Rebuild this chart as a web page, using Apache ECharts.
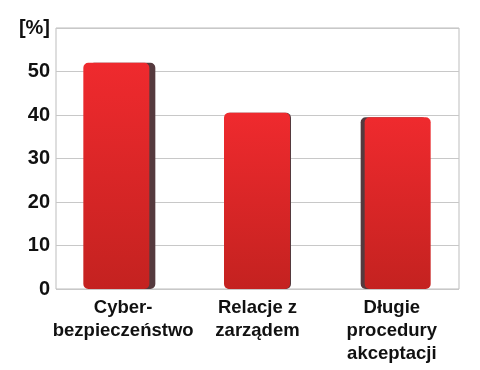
<!DOCTYPE html>
<html><head><meta charset="utf-8">
<script src="https://cdn.jsdelivr.net/npm/echarts@6/dist/echarts.min.js"></script>
<style>html,body{margin:0;padding:0;background:#fff}#c{width:480px;height:370px}</style>
</head><body><div id="c"></div>
<script>
const categories = ['Cyber-\nbezpieczeństwo', 'Relacje z\nzarządem', 'Długie\nprocedury\nakceptacji'];
const values = [52, 40.5, 39.5];
const sideOffsets = [6, 1, -4];

const chart = echarts.init(document.getElementById('c'));
chart.setOption({
  animation: false,
  grid: [
    {left: 56, right: 21, top: 28, bottom: 81, show: true, borderColor: '#bdbdbd', borderWidth: 1},
    {left: 46, right: 12, top: 28, bottom: 81}
  ],
  xAxis: [{
    gridIndex: 0, type: 'category', data: categories,
    axisLine: {show: false}, axisTick: {show: false},
    axisLabel: {interval: 0, fontFamily: 'Liberation Sans, Arial', fontWeight: 'bold', fontSize: 18.5, color: '#111', lineHeight: 23, margin: 7}
  }, {
    gridIndex: 1, type: 'category', data: categories, show: false
  }],
  yAxis: [{
    gridIndex: 0, type: 'value', min: 0, max: 60, interval: 10,
    axisLine: {show: false}, axisTick: {show: false},
    splitLine: {lineStyle: {color: '#c8c8c8', width: 1}},
    axisLabel: {fontFamily: 'Liberation Sans, Arial', fontWeight: 'bold', fontSize: 20, color: '#111', margin: 6,
      formatter: v => v === 60 ? '[%]' : String(v)}
  }, {
    gridIndex: 1, type: 'value', min: 0, max: 60, interval: 10, show: false, splitLine: {show: false}
  }],
  series: [{
    type: 'bar', xAxisIndex: 1, yAxisIndex: 1, barWidth: 66,
    data: values.map((v, i) => ({
      value: v,
      itemStyle: {
        borderRadius: [5, 5, 5, 5],
        color: {type: 'linear', x: 0, y: 0, x2: 0, y2: 1, colorStops: [
          {offset: 0, color: '#ef2a2e'}, {offset: 1, color: '#c42220'}]},
        shadowColor: '#553a3e', shadowBlur: 0, shadowOffsetX: sideOffsets[i], shadowOffsetY: 0
      }
    }))
  }]
});
</script></body></html>
